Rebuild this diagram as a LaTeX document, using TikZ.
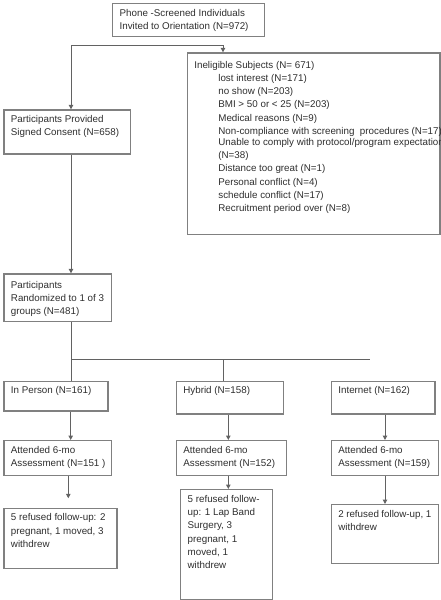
\documentclass[tikz,border=0pt]{standalone}
\usepackage{fontspec}
\setmainfont{Liberation Sans}
\usetikzlibrary{arrows.meta,positioning}
\definecolor{boxclr}{HTML}{808080}
\definecolor{lineclr}{HTML}{626262}
\newcommand{\cell}[3]{\parbox[t][\dimexpr#2pt-11pt\relax][t]{\dimexpr#1pt-14pt\relax}{\raggedright#3}}
\newcommand{\reason}[1]{\hspace*{24pt}\mbox{#1}}
\tikzset{
  box/.style={draw=boxclr,line width=1.3pt,anchor=north west,inner xsep=7pt,inner ysep=5.5pt,
    font=\fontsize{9.8}{13.3}\selectfont,text=black!82},
  wire/.style={draw=lineclr,line width=1pt},
  flow/.style={wire,-{Triangle[width=4.5pt,length=4.5pt]}}
}

\begin{document}
\begin{tikzpicture}[x=1pt,y=-1pt]
  \useasboundingbox (0,0) rectangle (440,600);
  \node[box] (screen) at (112,3) {\cell{152}{33}{Phone -Screened Individuals\\Invited to Orientation (N=972)}};
  \node[box] (consent) at (3.3,109.3) {\cell{126.7}{44}{Participants Provided\\Signed Consent (N=658)}};
  \node[box] (inelig) at (186.7,52.3) {\cell{252.6}{181.7}{\vspace*{2.5pt}\mbox{Ineligible Subjects (N= 671)}\\
    \reason{lost interest (N=171)}\\
    \reason{no show (N=203)}\\
    \reason{BMI > 50 or < 25 (N=203)}\\
    \reason{Medical reasons (N=9)}\\
    \reason{Non-compliance with screening\ \ procedures (N=17)}\\[-2.6pt]
    \reason{Unable to comply with protocol/program expectations}\\
    \reason{(N=38)}\\
    \reason{Distance too great (N=1)}\\
    \reason{Personal conflict (N=4)}\\
    \reason{schedule conflict (N=17)}\\
    \reason{Recruitment period over (N=8)}}};
  \node[box] (rand) at (3.3,273.3) {\cell{107.7}{47.4}{\vspace*{1.5pt}Participants\\Randomized to 1 of 3\\groups (N=481)}};
  \node[box] (inperson) at (3.3,380.7) {\cell{104}{29.5}{In Person (N=161)}};
  \node[box] (hybrid) at (175.7,380.7) {\cell{107}{32.6}{Hybrid (N=158)}};
  \node[box] (internet) at (330.7,380.7) {\cell{103.6}{32.6}{Internet (N=162)}};
  \node[box] (att1) at (3.3,440) {\cell{107.7}{35}{Attended 6-mo\\\mbox{Assessment (N=151 )}}};
  \node[box] (att2) at (175.7,440) {\cell{110.3}{35}{Attended 6-mo\\Assessment (N=152)}};
  \node[box] (att3) at (330.7,440) {\cell{107}{35}{Attended 6-mo\\Assessment (N=159)}};
  \node[box] (ref1) at (3.3,507.7) {\cell{113}{60}{5 refused follow-up: 2\\pregnant, 1 moved, 3\\withdrew}};
  \node[box] (ref2) at (180,489) {\cell{91.7}{110.3}{5 refused follow-\\up: 1 Lap Band\\Surgery, 3\\pregnant, 1\\moved, 1\\withdrew}};
  \node[box] (ref3) at (330.7,504) {\cell{107}{58.7}{2 refused follow-up, 1\\withdrew}};

  \coordinate (sl) at (71,45);
  \coordinate (sr) at (223,45);
  \coordinate (gl) at (71,359.3);
  \coordinate (gm) at (223.3,359.3);
  \coordinate (gr) at (370,359.3);
  \coordinate (x1) at (70.7,0);
  \coordinate (x1b) at (68.3,0);
  \coordinate (x2) at (228.3,0);
  \coordinate (x3) at (385,0);

  \draw[wire] (sl) -- (sr);
  \draw[flow] (sl) -- (sl |- consent.north);
  \draw[flow] (sr) -- (sr |- inelig.north);
  \draw[flow] (sl |- consent.south) -- (sl |- rand.north);
  \draw[wire] (sl |- rand.south) -- (gl |- inperson.north);
  \draw[wire] (gl) -- (gr);
  \draw[wire] (gm) -- (gm |- hybrid.north);
  \draw[flow] (x1 |- inperson.south) -- (x1 |- att1.north);
  \draw[flow] (x2 |- hybrid.south) -- (x2 |- att2.north);
  \draw[flow] (x3 |- internet.south) -- (x3 |- att3.north);
  \draw[flow,shorten >=9.4pt] (x1b |- att1.south) -- (x1b |- ref1.north);
  \draw[flow] (x2 |- att2.south) -- (x2 |- ref2.north);
  \draw[flow] (x3 |- att3.south) -- (x3 |- ref3.north);
\end{tikzpicture}
\end{document}
